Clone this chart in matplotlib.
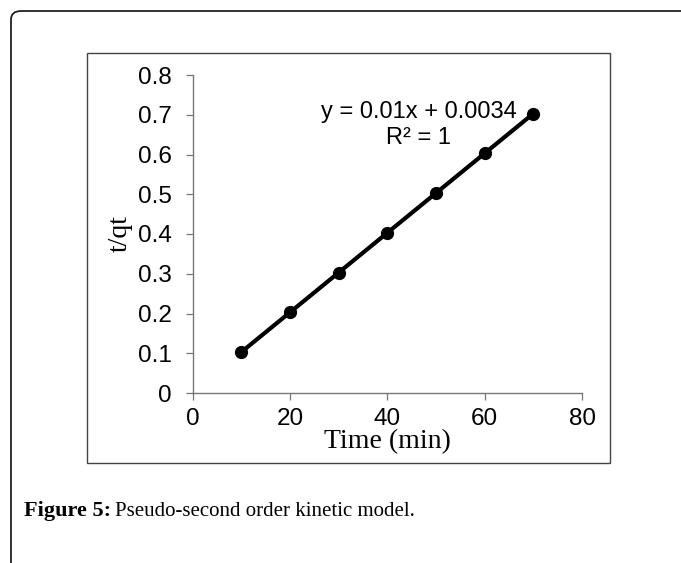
import matplotlib
matplotlib.use("Agg")
import matplotlib.pyplot as plt
from matplotlib.patches import FancyBboxPatch, Rectangle

# data
time_min = [10, 20, 30, 40, 50, 60, 70]
t_over_qt = [0.103, 0.203, 0.303, 0.403, 0.503, 0.603, 0.703]
x_ticks = [0, 20, 40, 60, 80]
y_ticks = [0, 0.1, 0.2, 0.3, 0.4, 0.5, 0.6, 0.7, 0.8]
y_tick_labels = ["0", "0.1", "0.2", "0.3", "0.4", "0.5", "0.6", "0.7", "0.8"]
fit_text = "y = 0.01x + 0.0034"
r2_text = "R² = 1"

W, H = 681, 563
fig = plt.figure(figsize=(W / 100, H / 100), dpi=100)

# outer rounded frame (runs off the right and bottom edges)
outer = FancyBboxPatch((11 / W, -0.1), 1.2, 1 - 11 / H + 0.1,
                       boxstyle="round,pad=0,rounding_size=0.015",
                       transform=fig.transFigure, fill=False,
                       edgecolor="#222222", linewidth=1.3)
fig.add_artist(outer)

# inner chart frame
inner = Rectangle((87 / W, 1 - 463 / H), (610 - 87) / W, (463 - 53) / H,
                  transform=fig.transFigure, fill=False,
                  edgecolor="#444444", linewidth=1.0)
fig.add_artist(inner)

ax = fig.add_axes([192.7 / W, 1 - 393 / H, (582 - 192.7) / W, (393 - 75) / H])
ax.plot(time_min, t_over_qt, color="black", lw=3.0, marker="o",
        markersize=8.5, zorder=3)

ax.set_xlim(0, 80)
ax.set_ylim(0, 0.8)
ax.set_xticks(x_ticks)
ax.set_yticks(y_ticks)
ax.set_yticklabels(y_tick_labels)
for lbl in ax.get_xticklabels() + ax.get_yticklabels():
    lbl.set_fontfamily("Liberation Sans")
    lbl.set_fontsize(17.5)
ax.tick_params(axis="both", direction="out", length=5, width=0.9,
               color="#777777")
ax.tick_params(axis="x", pad=6)
ax.tick_params(axis="y", pad=10)
for side in ("top", "right"):
    ax.spines[side].set_visible(False)
for side in ("left", "bottom"):
    ax.spines[side].set_color("#777777")
    ax.spines[side].set_linewidth(1.0)
ax.patch.set_alpha(0)

ax.set_xlabel("Time (min)", fontfamily="Liberation Serif", fontsize=20,
              labelpad=-1)
ax.set_ylabel("t/qt", fontfamily="Liberation Serif", fontsize=20,
              labelpad=4)

ax.text(46.4, 0.708, fit_text, ha="center", va="center",
        fontfamily="Liberation Sans", fontsize=17)
ax.text(46.5, 0.641, r2_text, ha="center", va="center",
        fontfamily="Liberation Sans", fontsize=17)

# caption
cap = fig.text(24 / W, 1 - 516 / H, "Figure 5:", fontfamily="Liberation Serif",
               fontweight="bold", fontsize=16, va="baseline")
ax.annotate("Pseudo-second order kinetic model.", xy=(1, 0), xycoords=cap,
            xytext=(3, 0), textcoords="offset points", va="bottom",
            fontfamily="Liberation Serif", fontsize=15,
            annotation_clip=False)

fig.savefig("out.png", dpi=100)
